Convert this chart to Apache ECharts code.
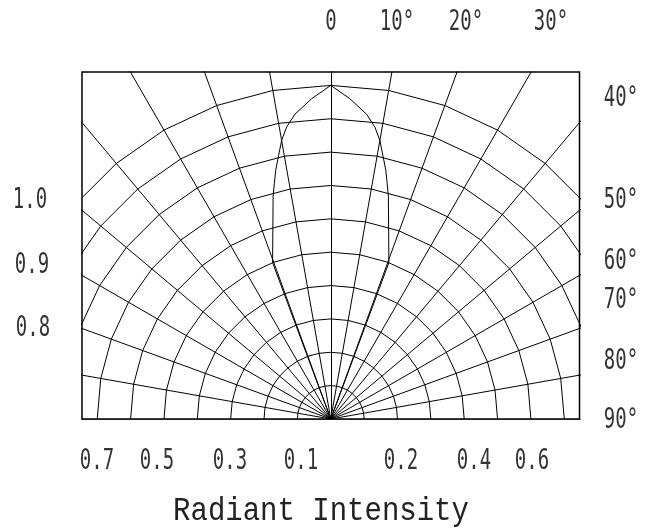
<!DOCTYPE html>
<html>
<head>
<meta charset="utf-8">
<script src="https://cdn.jsdelivr.net/npm/echarts@6/dist/echarts.min.js"></script>
<style>
html, body { margin: 0; padding: 0; background: #fff; }
#chart { width: 647px; height: 529px; }
</style>
</head>
<body>
<div id="chart"></div>
<script>
// polar grid: rings (relative intensity) and spokes (degrees from axis)
var ringRadii = [0.1, 0.2, 0.3, 0.4, 0.5, 0.6, 0.7, 0.8, 0.9, 1.0];
var spokeAngles = [-90, -80, -70, -60, -50, -40, -30, -20, -10, 0, 10, 20, 30, 40, 50, 60, 70, 80, 90];

// radiation pattern
var lobeAngles    = [-30, -20.4, -14.5, -13.5, -12.5, -11.2, -10, -8.6, -6.7, -3.4, 0, 3.4, 6.7, 8.6, 10, 11.2, 12.5, 13.5, 14.5, 20.4, 30];
var lobeIntensity = [0, 0.50, 0.69, 0.725, 0.763, 0.805, 0.848, 0.885, 0.92, 0.962, 1.0, 0.962, 0.92, 0.885, 0.848, 0.805, 0.763, 0.725, 0.69, 0.50, 0];

// labels
var topLabels = ['0', '10°', '20°', '30°'];
var rightLabels = ['40°', '50°', '60°', '70°', '80°', '90°'];
var leftLabels = ['1.0', '0.9', '0.8'];
var bottomLabels = ['0.7', '0.5', '0.3', '0.1', '0.2', '0.4', '0.6'];
var axisTitle = 'Radiant Intensity';

function pt(deg, r) {
	var a = deg * Math.PI / 180;
	return [r * Math.sin(a), r * Math.cos(a)];
}

var myChart = echarts.init(document.getElementById('chart'));

// label places (pixels), same order as the label arrays
var topPos = [[331, 23], [397, 23], [466, 23], [551, 23]];
var rightPos = [[621, 99], [621, 201], [621, 262], [621, 301], [621, 362], [621, 421]];
var leftPos = [[30, 201], [32, 266], [33, 329]];
var bottomPos = [[97, 462], [157, 462], [230, 462], [301, 462], [401, 462], [474, 462], [532, 462]];

function textEls(labels, pos) {
	return labels.map(function (t, i) {
		return {
			type: 'text',
			x: pos[i][0],
			y: pos[i][1],
			scaleY: 1.5,
			style: {
				text: t,
				x: 0, y: 0,
				align: 'center',
				verticalAlign: 'middle',
				font: '19px "DejaVu Sans Mono"',
				fill: '#333'
			}
		};
	});
}

var graphics = [].concat(
	textEls(topLabels, topPos),
	textEls(rightLabels, rightPos),
	textEls(leftLabels, leftPos),
	textEls(bottomLabels, bottomPos),
	[{
		type: 'text',
		x: 321, y: 511,
		scaleY: 1.15,
		style: {
			text: axisTitle,
			x: 0, y: 0,
			align: 'center',
			verticalAlign: 'middle',
			font: '29px "Liberation Mono"',
			fill: '#222'
		}
	}]
);

var halfW = 248.75 / 333.6;
var topY = 347 / 333.6;

var option = {
	animation: false,
	backgroundColor: '#fff',
	grid: {
		left: 82, top: 72, width: 497.5, height: 347,
		show: true,
		borderColor: '#000',
		borderWidth: 1.5
	},
	xAxis: {
		type: 'value', min: -halfW, max: halfW,
		axisLine: { show: false }, axisTick: { show: false },
		axisLabel: { show: false }, splitLine: { show: false }
	},
	yAxis: {
		type: 'value', min: 0, max: topY,
		axisLine: { show: false }, axisTick: { show: false },
		axisLabel: { show: false }, splitLine: { show: false }
	},
	graphic: graphics,
	series: [
		{
			name: 'rings',
			type: 'lines',
			coordinateSystem: 'cartesian2d',
			polyline: true,
			clip: true,
			silent: true,
			lineStyle: { color: '#000', width: 1, opacity: 1 },
			data: ringRadii.map(function (r) {
				return { coords: spokeAngles.map(function (a) { return pt(a, r); }) };
			})
		},
		{
			name: 'spokes',
			type: 'lines',
			coordinateSystem: 'cartesian2d',
			clip: true,
			silent: true,
			lineStyle: { color: '#000', width: 1, opacity: 1 },
			data: spokeAngles.map(function (a) {
				return { coords: [[0, 0], pt(a, 2)] };
			})
		},
		{
			name: 'pattern',
			type: 'line',
			symbol: 'none',
			clip: true,
			lineStyle: { color: '#000', width: 1 },
			data: lobeAngles.map(function (a, i) { return pt(a, lobeIntensity[i]); })
		}
	]
};

myChart.setOption(option);
</script>
</body>
</html>
